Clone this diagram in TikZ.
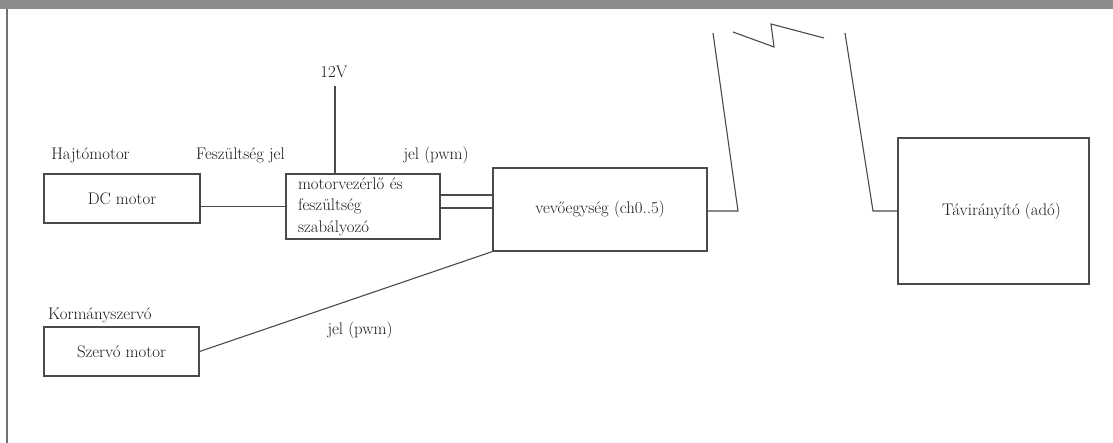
\documentclass[tikz,border=0pt]{standalone}
\definecolor{ln}{HTML}{4A4A4A}
\definecolor{tx}{HTML}{1A1A1A}
\definecolor{band}{HTML}{8C8C8C}
\tikzset{
  blk/.style={draw=ln, line width=1.1pt, inner sep=0pt, text=tx, font=\rmfamily\fontsize{16.8}{21.5}\selectfont},
  lbl/.style={inner sep=0pt, text=tx, font=\rmfamily\fontsize{16.8}{21.5}\selectfont},
  wire/.style={draw=ln, line width=1.1pt}
}
\begin{document}
\begin{tikzpicture}[x=1pt,y=-1pt]
\useasboundingbox (0,0) rectangle (1113,443);
\fill[white] (0,0) rectangle (1113,443);
\fill[band] (0,0) rectangle (1113,9);
\draw[band!80!black, line width=1.6pt] (7,9) -- (7,443);

% boxes
\node[blk, minimum width=156pt, minimum height=49pt] (dc) at (122,198.5) {DC motor};
\node[blk, minimum width=154pt, minimum height=65pt, text width=130pt, inner xsep=12pt, align=left] (mv) at (363,206.5) {motorvezérlő és\\feszültség\\szabályozó};
\node[blk, minimum width=214pt, minimum height=83pt] (rx) at (600,209.5) {vevőegység (ch0..5)};
\node[blk, minimum width=191pt, minimum height=146pt] (ta) at (993.5,211) {\hspace*{16pt}Távirányító (adó)};
\node[blk, minimum width=155pt, minimum height=49pt] (sz) at (121.5,351.5) {Szervó motor};

% labels
\node[lbl] (hm) at (90.5,155) {Hajtómotor};
\node[lbl, anchor=west] (fj) at (196,155) {Feszültség jel};
\node[lbl, inner ysep=8pt] (v12) at (334,72) {12V};
\node[lbl] (j1) at (436,155) {jel (pwm)};
\node[lbl, anchor=west] (ks) at (48,315) {Kormányszervó};
\node[lbl] (j2) at (360,330) {jel (pwm)};

% connectors
\draw[wire] (dc.east |- mv.west) -- (mv.west);
\draw[wire] ([xshift=1pt]v12.south) -- ([xshift=1pt]v12.south |- mv.north);
\draw[wire] ([yshift=11.5pt]mv.east) -- ([yshift=11.5pt]mv.east -| rx.west);
\draw[wire] ([yshift=-1.5pt]mv.east) -- ([yshift=-1.5pt]mv.east -| rx.west);
\draw[wire] (sz.east) -- (rx.south west);

% antennas
\coordinate (a1) at (738,211);
\coordinate (a1t) at (713,33);
\coordinate (a2) at (873,211);
\coordinate (a2t) at (845,33);
\draw[wire] (rx.east |- a1) -- (a1) -- (a1t);
\draw[wire] (ta.west |- a2) -- (a2) -- (a2t);
\coordinate (z1) at (733,32);
\coordinate (z2) at (774,47);
\coordinate (z3) at (771,24);
\coordinate (z4) at (824,38);
\draw[wire] (z1) -- (z2) -- (z3) -- (z4);
\end{tikzpicture}
\end{document}
